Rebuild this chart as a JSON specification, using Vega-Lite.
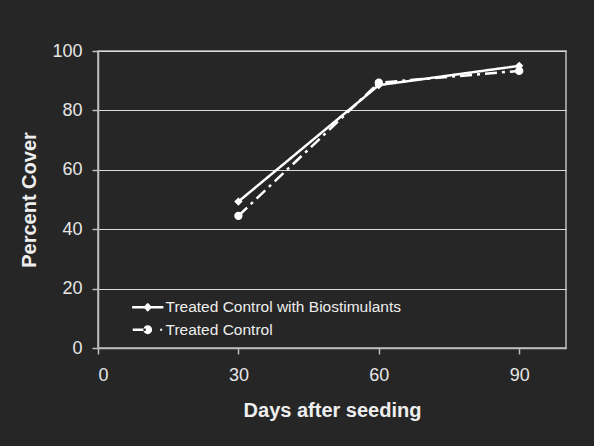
{
  "$schema": "https://vega.github.io/schema/vega-lite/v6.json",
  "width": 468,
  "height": 297,
  "autosize": {"type": "none"},
  "padding": {"left": 98, "top": 51, "right": 28, "bottom": 98},
  "background": "#262626",
  "config": {
    "view": {"stroke": "#bdbdbd", "strokeWidth": 1.5},
    "font": "Liberation Sans"
  },
  "data": {
    "values": [
      {"day": 30, "cover": 49.3, "series": "Treated Control with Biostimulants"},
      {"day": 60, "cover": 88.5, "series": "Treated Control with Biostimulants"},
      {"day": 90, "cover": 95.0, "series": "Treated Control with Biostimulants"},
      {"day": 30, "cover": 44.5, "series": "Treated Control"},
      {"day": 60, "cover": 89.3, "series": "Treated Control"},
      {"day": 90, "cover": 93.3, "series": "Treated Control"}
    ]
  },
  "encoding": {
    "x": {
      "field": "day",
      "type": "quantitative",
      "scale": {"domain": [0, 100], "nice": false},
      "axis": {
        "values": [0, 30, 60, 90],
        "grid": false,
        "title": "Days after seeding",
        "labelFont": "Liberation Sans",
        "labelFontSize": 18,
        "labelColor": "#e6e6e6",
        "labelPadding": 12,
        "titleFont": "Liberation Sans",
        "titleFontSize": 20,
        "titleFontWeight": "bold",
        "titleColor": "#eeeeee",
        "titleX": 234,
        "titleY": 62,
        "titleBaseline": "middle",
        "titleAlign": "center",
        "domainColor": "#bdbdbd",
        "domainWidth": 1.5,
        "tickColor": "#bdbdbd",
        "tickWidth": 1.5,
        "tickSize": 6
      }
    },
    "y": {
      "field": "cover",
      "type": "quantitative",
      "scale": {"domain": [0, 100], "nice": false},
      "axis": {
        "values": [0, 20, 40, 60, 80, 100],
        "title": "Percent Cover",
        "labelFont": "Liberation Sans",
        "labelFontSize": 18,
        "labelColor": "#e6e6e6",
        "labelPadding": 10,
        "titleFont": "Liberation Sans",
        "titleFontSize": 20,
        "titleFontWeight": "bold",
        "titleColor": "#eeeeee",
        "titleAngle": -90,
        "titleX": -69,
        "titleY": 148.5,
        "titleBaseline": "middle",
        "titleAlign": "center",
        "domainColor": "#bdbdbd",
        "domainWidth": 1.5,
        "tickColor": "#bdbdbd",
        "tickWidth": 1.5,
        "tickSize": 6,
        "gridColor": "#dcdcdc",
        "gridWidth": 1
      }
    }
  },
  "resolve": {"scale": {"color": "independent"}, "legend": {"color": "independent"}},
  "layer": [
    {
      "mark": {"type": "line", "color": "white", "strokeWidth": 2.5},
      "encoding": {
        "detail": {"field": "series", "type": "nominal"},
        "strokeDash": {
          "condition": {"test": "datum.series == 'Treated Control'", "value": [12, 5, 3, 5]},
          "value": [1, 0]
        }
      }
    },
    {
      "mark": {"type": "point", "filled": true, "color": "white", "opacity": 1, "size": 70},
      "encoding": {
        "shape": {
          "condition": {"test": "datum.series == 'Treated Control'", "value": "circle"},
          "value": "diamond"
        }
      }
    },
    {
      "transform": [{"filter": "datum.series == 'Treated Control with Biostimulants'"}],
      "mark": {
        "type": "point",
        "filled": true,
        "opacity": 0,
        "size": 64,
        "shape": "M-3.9,-0.3H3.9V0.3H-3.9ZM0,-1.1L1.1,0L0,1.1L-1.1,0Z"
      },
      "encoding": {
        "color": {
          "field": "series",
          "type": "nominal",
          "scale": {"domain": ["Treated Control with Biostimulants"], "range": ["#ffffff"]},
          "legend": {
            "title": null,
            "orient": "none",
            "legendX": 42,
            "legendY": 248.5,
            "padding": 0,
            "labelFont": "Liberation Sans",
            "labelFontSize": 15.5,
            "labelColor": "#eeeeee",
            "labelLimit": 0,
            "labelOffset": 10,
            "symbolSize": 64,
            "symbolStrokeWidth": 0,
            "symbolOpacity": 1
          }
        }
      }
    },
    {
      "transform": [{"filter": "datum.series == 'Treated Control'"}],
      "mark": {
        "type": "point",
        "filled": true,
        "opacity": 0,
        "size": 64,
        "shape": "M-3.75,-0.3H-0.5V0.3H-3.75ZM3.1,-0.25H3.6V0.25H3.1ZM-1.1,0a1.1,1.1 0 1,0 2.2,0a1.1,1.1 0 1,0 -2.2,0Z"
      },
      "encoding": {
        "color": {
          "field": "series",
          "type": "nominal",
          "scale": {"domain": ["Treated Control"], "range": ["#ffffff"]},
          "legend": {
            "title": null,
            "orient": "none",
            "legendX": 42,
            "legendY": 271,
            "padding": 0,
            "labelFont": "Liberation Sans",
            "labelFontSize": 15.5,
            "labelColor": "#eeeeee",
            "labelLimit": 0,
            "labelOffset": 10,
            "symbolSize": 64,
            "symbolStrokeWidth": 0,
            "symbolOpacity": 1
          }
        }
      }
    }
  ]
}
